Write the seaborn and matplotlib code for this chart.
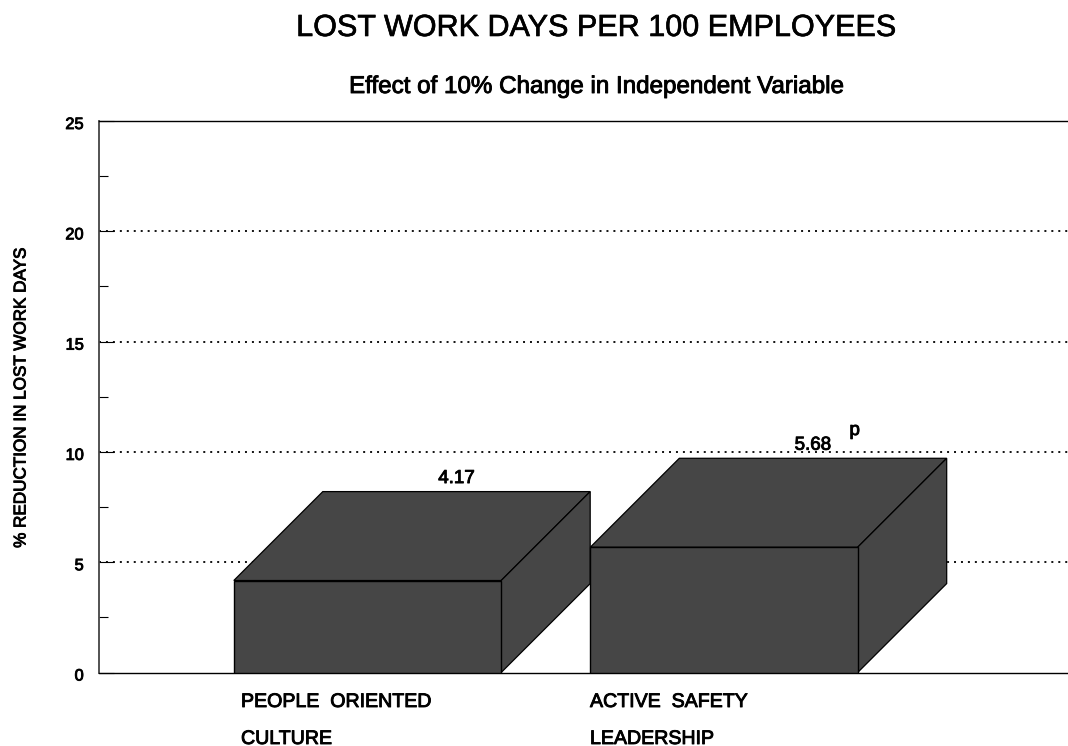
import matplotlib
matplotlib.use("Agg")
import matplotlib.pyplot as plt
import matplotlib.patheffects as pe
from matplotlib.patches import Polygon
from matplotlib.transforms import ScaledTranslation
import pandas as pd
import seaborn as sns

categories = ["PEOPLE  ORIENTED\nCULTURE", "ACTIVE  SAFETY\nLEADERSHIP"]
values = [4.17, 5.68]
value_labels = ["4.17", "5.68"]
major_ticks = [0, 5, 10, 15, 20, 25]
minor_ticks = [2.5, 7.5, 12.5, 17.5, 22.5]
grid_levels = [5, 10, 15, 20]

W, H = 1068, 746
DEPTH_X = 89 / 356.5
DEPTH_Y = 89 / (552 / 25)
BAR = "#464646"

sns.set_theme(style="white")
plt.rcParams["font.family"] = ["Liberation Sans", "DejaVu Sans"]
bold = [pe.withStroke(linewidth=0.65, foreground="black")]

fig = plt.figure(figsize=(W / 100, H / 100), dpi=100, facecolor="white")
ax = fig.add_axes([99 / W, 1 - 672.5 / H, (W - 99) / W, 551.5 / H])

df = pd.DataFrame({"category": categories, "value": values})
sns.barplot(data=df, x="category", y="value", ax=ax, color=BAR, saturation=1,
            width=0.75, edgecolor="black", linewidth=1.0, zorder=5)

for i, patch in enumerate(ax.patches):
    x0, w, h = patch.get_x(), patch.get_width(), patch.get_height()
    x1 = x0 + w
    base = 2 + i * 2
    patch.set_zorder(base + 1)
    top = [(x0, h), (x1, h), (x1 + DEPTH_X, h + DEPTH_Y), (x0 + DEPTH_X, h + DEPTH_Y)]
    side = [(x1, 0), (x1 + DEPTH_X, DEPTH_Y), (x1 + DEPTH_X, h + DEPTH_Y), (x1, h)]
    for pts in (top, side):
        ax.add_patch(Polygon(pts, closed=True, facecolor=BAR, edgecolor="black",
                             linewidth=0.9, zorder=base, clip_on=False))
    ax.annotate(value_labels[i], xy=(x0 + w / 2 + DEPTH_X, h + DEPTH_Y),
                xytext=(0, 9.4), textcoords="offset points", ha="center", va="center",
                fontsize=13.5, color="black", path_effects=bold, zorder=10)

ax.annotate("p", xy=(1 + DEPTH_X, values[1] + DEPTH_Y), xytext=(30, 20),
            textcoords="offset points", ha="center", va="center",
            fontsize=13.5, color="black", path_effects=bold, zorder=10)

for lv in grid_levels:
    ax.axhline(lv, color="black", lw=1.3, ls=(0, (1.1, 2.75)), zorder=1)

ax.set_xlim((99 - 367.5) / 356.5, (1068 - 367.5) / 356.5)
ax.set_ylim(0, 25)
ax.set_xlabel("")
ax.set_ylabel("")

for s in ("top", "left", "bottom"):
    ax.spines[s].set_visible(True)
    ax.spines[s].set_color("black")
    ax.spines[s].set_linewidth(1.0)
ax.spines["left"].set_color("#444444")
ax.spines["left"].set_linewidth(1.3)
ax.spines["right"].set_visible(False)

ax.set_yticks(major_ticks)
ax.set_yticks(minor_ticks, minor=True)
ax.tick_params(axis="y", which="major", direction="in", length=11, width=0.8,
               color="black", left=True, pad=11, labelsize=11.8, labelcolor="black")
ax.tick_params(axis="y", which="minor", direction="in", length=6.5, width=0.8,
               color="black", left=True)
for lab in ax.get_yticklabels():
    lab.set_path_effects(bold)
    lab.set_transform(lab.get_transform() + ScaledTranslation(0, -2 / 100, fig.dpi_scale_trans))

ax.tick_params(axis="x", length=0, pad=0)
ax.set_xticks([0, 1])
ax.set_xticklabels(categories, fontsize=14.1, color="black", ha="left",
                   linespacing=2.2, path_effects=bold)
shifts = [(241 - 367.5) / 100, (590 - 724) / 100]
for lab, dx in zip(ax.get_xticklabels(), shifts):
    lab.set_transform(lab.get_transform() + ScaledTranslation(dx, -19.5 / 100, fig.dpi_scale_trans))

fig.text(596 / W, 1 - 28 / H, "LOST WORK DAYS PER 100 EMPLOYEES", ha="center", va="center",
         fontsize=22, color="black", path_effects=[pe.withStroke(linewidth=0.45, foreground="black")])
fig.text(596 / W, 1 - 87 / H, "Effect of 10% Change in Independent Variable", ha="center",
         va="center", fontsize=17.4, color="black", path_effects=bold)
fig.text(21 / W, 1 - 397.5 / H, "% REDUCTION IN LOST WORK DAYS", rotation=90, ha="center",
         va="center", fontsize=12.3, color="black", path_effects=bold)

fig.savefig("out.png", dpi=100, facecolor="white")
